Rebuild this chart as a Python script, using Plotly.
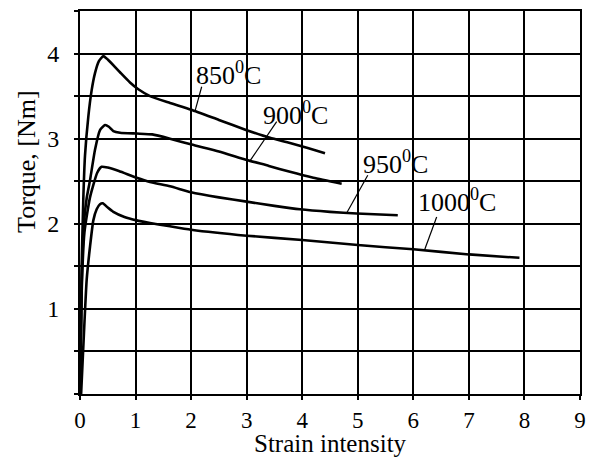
import numpy as np
import plotly.graph_objects as go

# Data
strain_850 = [0, 0.03, 0.06, 0.09, 0.15, 0.21, 0.27, 0.34, 0.42, 0.5, 0.72, 0.9, 1.05, 1.26, 1.62, 2.0, 2.5, 3.0, 3.42, 3.78, 4.1, 4.41]
torque_850 = [0, 1.5, 2.3, 2.8, 3.26, 3.57, 3.77, 3.91, 3.97, 3.93, 3.78, 3.66, 3.58, 3.50, 3.42, 3.34, 3.22, 3.10, 3.01, 2.95, 2.89, 2.83]

strain_900 = [0, 0.03, 0.07, 0.12, 0.18, 0.27, 0.36, 0.45, 0.52, 0.6, 0.72, 1.02, 1.3, 1.62, 2.01, 2.5, 3.0, 3.4, 3.78, 4.2, 4.71]
torque_900 = [0, 1.3, 2.0, 2.3, 2.51, 2.87, 3.10, 3.16, 3.14, 3.09, 3.07, 3.06, 3.05, 3.00, 2.93, 2.85, 2.75, 2.68, 2.61, 2.54, 2.47]

strain_950 = [0, 0.03, 0.08, 0.18, 0.31, 0.39, 0.5, 0.7, 1.02, 1.26, 1.62, 2.0, 2.5, 3.0, 3.5, 3.96, 4.5, 4.98, 5.72]
torque_950 = [0, 1.2, 1.9, 2.31, 2.60, 2.67, 2.66, 2.62, 2.54, 2.49, 2.44, 2.37, 2.31, 2.26, 2.21, 2.17, 2.14, 2.12, 2.10]

strain_1000 = [0.02, 0.07, 0.12, 0.18, 0.24, 0.3, 0.36, 0.41, 0.5, 0.6, 0.8, 1.02, 1.26, 1.62, 2.0, 3.0, 4.0, 5.0, 6.0, 7.0, 7.91]
torque_1000 = [0, 0.7, 1.34, 1.73, 2.04, 2.17, 2.23, 2.24, 2.19, 2.14, 2.08, 2.04, 2.01, 1.97, 1.93, 1.86, 1.81, 1.75, 1.70, 1.64, 1.60]

labels = ["850<sup>0</sup>C", "900<sup>0</sup>C", "950<sup>0</sup>C", "1000<sup>0</sup>C"]
x_title = "Strain intensity"
y_title = "Torque, [Nm]"

x_ticks = list(range(0, 10))
y_tickvals = [0, 0.5, 1, 1.5, 2, 2.5, 3, 3.5, 4, 4.5]
y_ticktext = ["", "", "1", "", "2", "", "3", "", "4", ""]

series = [(strain_850, torque_850), (strain_900, torque_900),
          (strain_950, torque_950), (strain_1000, torque_1000)]

# label placement: (x on curve for leader, leader top x, leader top y, text left x, text y)
label_pos = [(2.07, 2.19, 3.61, 2.05, 3.76),
             (3.06, 3.54, 3.20, 3.25, 3.30),
             (4.80, 5.18, 2.57, 5.05, 2.72),
             (6.20, 6.42, 2.08, 6.05, 2.27)]

FONT = "Liberation Serif, Times New Roman, serif"

fig = go.Figure()
for (sx, sy) in series:
    fig.add_trace(go.Scatter(x=sx, y=sy, mode="lines",
                             line=dict(color="black", width=2.6, shape="spline", smoothing=0.5),
                             showlegend=False, hoverinfo="skip"))

for (sx, sy), lab, (cx, tx, ty, lx, ly) in zip(series, labels, label_pos):
    cy = float(np.interp(cx, sx, sy))
    fig.add_trace(go.Scatter(x=[cx, tx], y=[cy, ty], mode="lines", line=dict(color="black", width=1.2),
                             showlegend=False, hoverinfo="skip"))
    fig.add_annotation(x=lx, y=ly, text=lab, showarrow=False, xanchor="left", yanchor="middle",
                       font=dict(family=FONT, size=26, color="black"))

# axis titles
fig.add_annotation(x=0.5, y=-0.128, xref="paper", yref="paper", text=x_title, showarrow=False,
                   xanchor="center", yanchor="middle", font=dict(family=FONT, size=25, color="black"))
fig.add_annotation(x=-0.106, y=0.606, xref="paper", yref="paper", text=y_title, showarrow=False,
                   textangle=-90, xanchor="center", yanchor="middle",
                   font=dict(family=FONT, size=26, color="black"))

fig.update_layout(
    width=591, height=459,
    margin=dict(l=80, r=11, t=11, b=65),
    paper_bgcolor="white", plot_bgcolor="white",
    font=dict(family=FONT, size=23, color="black"),
)
fig.update_xaxes(range=[0, 9], tickvals=x_ticks, ticktext=[str(v) for v in x_ticks],
                 automargin=False,
                 showgrid=True, gridcolor="black", gridwidth=1.8, zeroline=False,
                 showline=True, linecolor="black", linewidth=2, mirror=True,
                 ticks="outside", ticklen=4, tickwidth=1.8, tickcolor="black",
                 ticklabelstandoff=0,
                 tickfont=dict(family=FONT, size=23))
fig.update_yaxes(range=[0, 4.5], tickvals=y_tickvals, ticktext=y_ticktext,
                 automargin=False,
                 showgrid=True, gridcolor="black", gridwidth=1.8, zeroline=False,
                 showline=True, linecolor="black", linewidth=2, mirror=True,
                 ticks="outside", ticklen=4, tickwidth=1.8, tickcolor="black",
                 ticklabelstandoff=10,
                 tickfont=dict(family=FONT, size=24))

fig.write_html("out.html")
